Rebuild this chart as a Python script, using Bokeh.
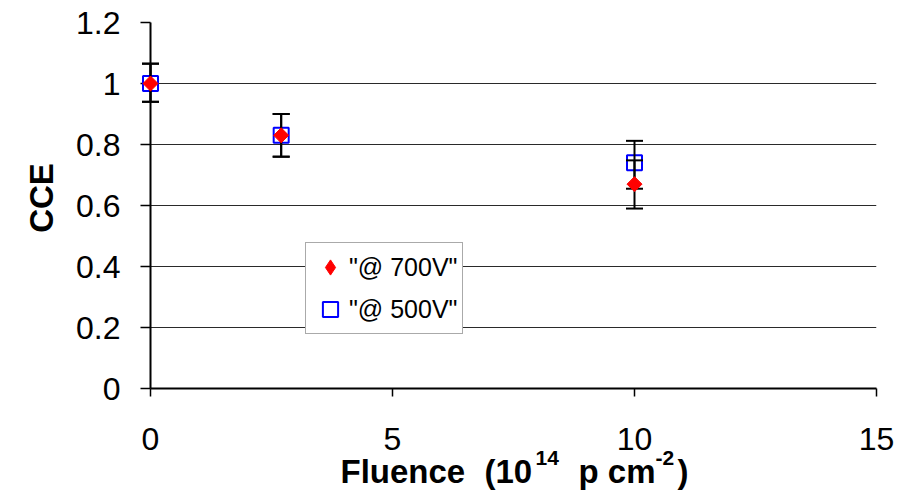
import math
from bokeh.plotting import figure
from bokeh.models import (Range1d, FixedTicker, NumeralTickFormatter,
                          Legend, LegendItem, ColumnDataSource)
from bokeh.core.properties import value
from bokeh.embed import file_html
from bokeh.resources import INLINE

# ---------------- data ----------------
fluence = [0, 2.7, 10]
cce_700 = [1.0, 0.83, 0.67]
lo_700 = [0.94, 0.76, 0.59]
hi_700 = [1.065, 0.90, 0.748]
cce_500 = [1.0, 0.83, 0.74]
lo_500 = [0.94, 0.76, 0.655]
hi_500 = [1.065, 0.90, 0.812]
x_ticks = [0, 5, 10, 15]
y_ticks = [0, 0.2, 0.4, 0.6, 0.8, 1.0, 1.2]
series_labels = ['"@ 700V"', '"@ 500V"']
y_title = "CCE"
x_title_parts = ["Fluence", "(10", "14", "p cm", "-2", ")"]

FONT = "Liberation Sans"

W, H = 905, 495
FL, FR, FT, FB = 150, 876, 22, 388          # frame edges in pixels
XMAX, YMAX = 15, 1.2
PX_X = (FR - FL) / XMAX
PX_Y = (FB - FT) / YMAX


def dx(px):   # pixel column -> data x (for text placement)
    return (px - FL) / PX_X


def dy(py):   # pixel row -> data y (for text placement)
    return (FB - py) / PX_Y


p = figure(width=W, height=H, output_backend="svg", toolbar_location=None,
           x_range=Range1d(0, XMAX), y_range=Range1d(0, YMAX),
           min_border_left=FL, min_border_right=W - FR, min_border_top=FT,
           min_border_bottom=H - FB)
p.outline_line_color = None
p.background_fill_color = "white"
p.border_fill_color = "white"

# axes
p.xaxis.ticker = FixedTicker(ticks=x_ticks)
p.yaxis.ticker = FixedTicker(ticks=y_ticks)
p.yaxis.formatter = NumeralTickFormatter(format="0.[0]")
for ax in (p.xaxis[0], p.yaxis[0]):
    ax.axis_line_color = "black"
    ax.axis_line_width = 2
    ax.major_tick_line_color = "black"
    ax.major_tick_line_width = 1.5
    ax.minor_tick_line_color = None
    ax.major_tick_in = 0
    ax.major_label_text_font = FONT
    ax.major_label_text_font_size = "32px"
    ax.major_label_text_color = "black"
p.yaxis.major_tick_out = 10
p.yaxis.major_label_standoff = 20
p.xaxis.major_tick_out = 8
p.xaxis.major_label_standoff = 31

p.xgrid.visible = False
p.ygrid.ticker = FixedTicker(ticks=y_ticks)
p.ygrid.grid_line_color = "#2a2a2a"
p.ygrid.grid_line_width = 1

# data renderers
src7 = ColumnDataSource(dict(x=fluence, y=cce_700, lo=lo_700, hi=hi_700))
src5 = ColumnDataSource(dict(x=fluence, y=cce_500, lo=lo_500, hi=hi_500))

# legend key for the diamonds (legend markers are drawn unrotated);
# tiny, and fully covered by the real diamonds drawn later
key7 = p.scatter("x", "y", source=src7, marker="diamond", size=1,
                 fill_color="#FF0000", line_color="#FF0000", line_width=1)

r5 = p.scatter("x", "y", source=src5, marker="square", size=15,
               fill_color=None, line_color="#0000FF", line_width=2,
               level="overlay")
for s in (src7, src5):
    p.segment("x", "lo", "x", "hi", source=s, line_color="black",
              line_width=2, level="overlay")
    p.scatter("x", "lo", source=s, marker="dash", size=17,
              line_color="black", line_width=2, level="overlay")
    p.scatter("x", "hi", source=s, marker="dash", size=17,
              line_color="black", line_width=2, level="overlay")
r7 = p.scatter("x", "y", source=src7, marker="square", angle=math.pi / 4,
               size=10.6, fill_color="#FF0000", line_color="#FF0000",
               line_width=1, level="overlay")

legend = Legend(items=[LegendItem(label=series_labels[0], renderers=[key7]),
                       LegendItem(label=series_labels[1], renderers=[r5])],
                location=(305 - FL, FB - 334), orientation="vertical",
                glyph_width=38, glyph_height=38, padding=5, spacing=4,
                label_standoff=-7, label_text_font=FONT,
                label_text_font_size="25px", label_text_color="black",
                border_line_color="#555555",
                border_line_width=1, background_fill_color="white",
                background_fill_alpha=1, margin=0)
p.add_layout(legend, "center")

# axis titles (overlay-level text, so they are not clipped to the frame)
p.text(x=[dx(41)], y=[dy(197.5)], text=[y_title], angle=math.pi / 2,
       text_align="center", text_baseline="middle",
       text_font=value(FONT), text_font_size=value("33px"),
       text_font_style="bold", text_color="black", level="overlay")

title_src = ColumnDataSource(dict(
    x=[dx(v) for v in (340, 484, 535, 578, 655, 677)],
    y=[dy(v) for v in (471, 471, 457, 471, 457, 471)],
    text=x_title_parts,
    size=["33px", "33px", "21px", "33px", "21px", "33px"],
))
p.text("x", "y", text="text", source=title_src, text_align="left",
       text_baseline="middle", text_font=value(FONT),
       text_font_size="size", text_font_style="bold", text_color="black",
       level="overlay")

open("out.html", "w").write(file_html(p, INLINE))
